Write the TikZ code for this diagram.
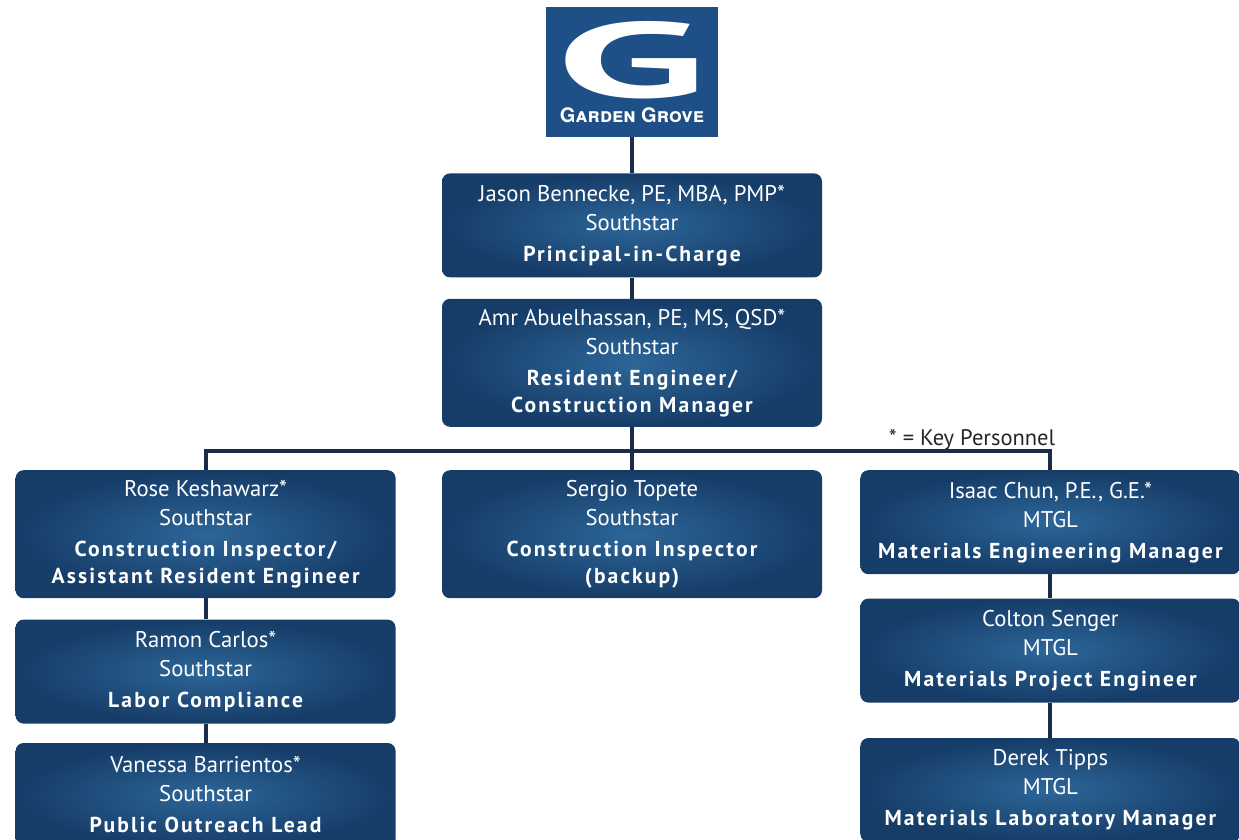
\documentclass[tikz,border=0pt]{standalone}
\usepackage{fontspec}
\setmainfont{PT Sans}
\newfontfamily\roleFont{PT Sans}[LetterSpace=10]
\newfontfamily\logoFont{TeX Gyre Heros}[Letters=SmallCaps]
\usetikzlibrary{positioning}
\definecolor{boxLight}{RGB}{44,102,152}
\definecolor{boxDark}{RGB}{22,60,104}
\definecolor{logoBlue}{RGB}{30,80,135}
\definecolor{lineNavy}{RGB}{25,45,75}
\tikzstyle{staffBox} = [rectangle, rounded corners=8pt, minimum width=380pt,
   minimum height=104pt, align=center, text=white, inner sep=2pt,
   inner color=boxLight, outer color=boxDark,
   font=\fontsize{22.7}{29}\selectfont]
\tikzstyle{tallBox} = [staffBox, minimum height=128pt]
\tikzstyle{logoBox} = [rectangle, fill=logoBlue, minimum width=172pt,
   minimum height=130pt, text=white, align=center, inner sep=0pt]
\tikzstyle{keyText} = [inner sep=0pt, text=black!85, font=\fontsize{22.5}{22.5}\selectfont]
\tikzstyle{orgLine} = [line width=4pt, draw=lineNavy]
\newcommand{\roleTxt}[1]{{\roleFont\bfseries\fontsize{21.6}{29}\selectfont #1}}
\begin{document}
\begin{tikzpicture}[x=1pt,y=1pt]
  \useasboundingbox (0,0) rectangle (1239,-840);
  \node[logoBox] (gg) at (632,-72) {\resizebox{150pt}{76pt}{\bfseries G}\\[7pt]
     {\logoFont\bfseries\fontsize{20}{20}\selectfont Garden Grove}};

  \node[staffBox,below=36pt of gg] (jb) {Jason Bennecke, PE, MBA, PMP*\\ Southstar\\[2pt]
     \roleTxt{Principal-in-Charge}};
  \node[tallBox,below=21pt of jb] (aa) {Amr Abuelhassan, PE, MS, QSD*\\ Southstar\\[2pt]
     \roleTxt{Resident Engineer/}\\[-2pt] \roleTxt{Construction Manager}};
  \node[tallBox,below=43pt of aa] (st) {Sergio Topete\\ Southstar\\[2pt]
     \roleTxt{Construction Inspector}\\[-2pt] \roleTxt{(backup)}};
  \node[tallBox,left=46pt of st] (rk) {Rose Keshawarz*\\ Southstar\\[2pt]
     \roleTxt{Construction Inspector/}\\[-2pt] \roleTxt{Assistant Resident Engineer}};
  \node[staffBox,right=38pt of st.north east,anchor=north west] (ic) {Isaac Chun, P.E., G.E.*\\ MTGL\\[2pt]
     \roleTxt{Materials Engineering Manager}};
  \node[staffBox,below=21pt of rk] (rc) {Ramon Carlos*\\ Southstar\\[2pt]
     \roleTxt{Labor Compliance}};
  \node[staffBox,below=19pt of rc] (vb) {Vanessa Barrientos*\\ Southstar\\[2pt]
     \roleTxt{Public Outreach Lead}};
  \node[staffBox,below=24pt of ic] (cs) {Colton Senger\\ MTGL\\[2pt]
     \roleTxt{Materials Project Engineer}};
  \node[staffBox,below=35pt of cs] (dt) {Derek Tipps\\ MTGL\\[2pt]
     \roleTxt{Materials Laboratory Manager}};

  \coordinate[below=24pt of aa] (bus);
  \coordinate (corner) at (ic.north |- bus);
  \node[keyText,above left=1pt and -5pt of corner] (key) {* = Key Personnel};

  % connectors
  \draw[orgLine] (gg) to (jb);
  \draw[orgLine] (jb) to (aa);
  \draw[orgLine] (aa) to (st);
  \draw[orgLine] (rk) |- (corner) -- (ic);
  \draw[orgLine] (rk) to (rc);
  \draw[orgLine] (rc) to (vb);
  \draw[orgLine] (ic) to (cs);
  \draw[orgLine] (cs) to (dt);
\end{tikzpicture}
\end{document}
